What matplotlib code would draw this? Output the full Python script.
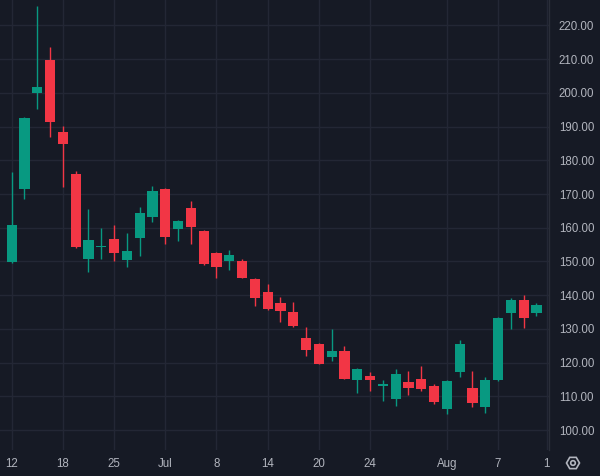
import numpy as np
import matplotlib
matplotlib.use("Agg")
import matplotlib.pyplot as plt
from matplotlib.patches import RegularPolygon, Circle
from matplotlib.transforms import IdentityTransform

# ---- data ----
opens = [149.9, 171.5, 200.1, 209.8, 188.4, 176.0, 150.7, 154.2, 156.6, 150.5,
         157.1, 163.2, 171.5, 159.6, 165.9, 159.1, 152.5, 150.1, 150.1, 144.8,
         140.9, 137.6, 135.0, 127.3, 125.4, 121.8, 123.4, 114.8, 115.9, 113.2,
         109.1, 114.2, 115.1, 113.1, 106.3, 117.1, 112.4, 106.9, 114.9, 134.6,
         138.7, 134.8]
highs = [176.6, 192.9, 225.8, 213.6, 190.2, 176.8, 165.5, 159.9, 160.7, 158.5,
         166.2, 172.4, 171.7, 162.3, 168.0, 159.3, 152.8, 153.4, 150.7, 145.0,
         143.4, 139.4, 137.9, 130.5, 125.7, 130.0, 124.9, 118.5, 117.1, 114.8,
         118.1, 117.6, 119.0, 113.6, 114.8, 126.7, 117.6, 115.6, 133.4, 139.3,
         140.1, 137.7]
lows = [149.5, 168.5, 195.2, 187.0, 172.2, 154.1, 147.0, 150.7, 150.1, 148.5,
        151.7, 161.8, 155.1, 156.0, 155.1, 148.9, 145.2, 147.6, 145.1, 136.9,
        135.6, 132.1, 130.7, 122.0, 119.5, 120.5, 115.0, 111.1, 111.6, 108.7,
        107.2, 110.5, 111.6, 107.6, 104.7, 115.7, 106.9, 105.1, 114.6, 130.1,
        130.4, 133.9]
closes = [160.8, 192.6, 201.8, 191.5, 184.9, 154.3, 156.3, 154.6, 152.6, 153.1,
          164.3, 170.9, 157.4, 162.0, 160.1, 149.3, 148.3, 151.9, 145.2, 139.1,
          136.0, 135.2, 131.0, 123.7, 119.6, 123.4, 115.2, 118.1, 114.9, 113.5,
          116.5, 112.4, 112.1, 108.2, 114.5, 125.4, 107.9, 114.8, 133.1, 138.7,
          133.2, 137.1]
tick_bars = [0, 4, 8, 12, 16, 20, 24, 28, 34, 38, 41.8]
tick_labels = ["12", "18", "25", "Jul", "8", "14", "20", "24", "Aug", "7", "1"]
price_ticks = [100, 110, 120, 130, 140, 150, 160, 170, 180, 190, 200, 210, 220]

# ---- style ----
BG = "#161a25"
GRID = "#232735"
TXT = "#b2b5be"
UP = "#089981"
DOWN = "#f23645"

W, H = 600, 476
fig = plt.figure(figsize=(W / 100, H / 100), dpi=100, facecolor=BG)
ax = fig.add_axes([0, 26 / H, 549 / W, 450 / H], facecolor=BG)

o = np.array(opens); c = np.array(closes)
hi = np.array(highs); lo = np.array(lows)
x = np.arange(len(o))
cols = [UP if cc >= oo else DOWN for oo, cc in zip(o, c)]

ax.vlines(x, lo, hi, colors=cols, linewidth=1.0, zorder=2)
bottoms = np.minimum(o, c)
heights = np.maximum(np.abs(c - o), 0.35)
ax.bar(x, heights, bottom=bottoms, width=0.8, color=cols, linewidth=0, zorder=3)

ax.set_xlim(-0.914, 41.98)
ax.set_ylim(94.07, 227.56)

ax.set_xticks(tick_bars)
ax.set_xticklabels(tick_labels)
ax.set_yticks(price_ticks)
ax.set_yticklabels([f"{v:.2f}" for v in price_ticks])
ax.yaxis.tick_right()
ax.tick_params(axis="both", length=0, colors=TXT, labelsize=8.3)
ax.tick_params(axis="y", pad=7)
ax.tick_params(axis="x", pad=6)
for lab in ax.get_xticklabels() + ax.get_yticklabels():
    lab.set_family(["Liberation Sans", "DejaVu Sans"])

ax.grid(True, color=GRID, linewidth=1.0, zorder=0)
ax.set_axisbelow(True)
for s in ["top", "bottom", "left"]:
    ax.spines[s].set_visible(False)
ax.spines["right"].set_color("#2a2e39")
ax.spines["right"].set_linewidth(1.0)

# settings (gear) icon in the bottom-right corner
cx, cy = 573, H - 463
hexa = RegularPolygon((cx, cy), numVertices=6, radius=6.5, orientation=np.pi / 2,
                      fill=False, edgecolor=TXT, linewidth=1.2,
                      transform=IdentityTransform())
circ = Circle((cx, cy), radius=2.3, fill=False, edgecolor=TXT, linewidth=1.2,
              transform=IdentityTransform())
fig.add_artist(hexa)
fig.add_artist(circ)

fig.savefig("out.png", dpi=100, facecolor=BG)
